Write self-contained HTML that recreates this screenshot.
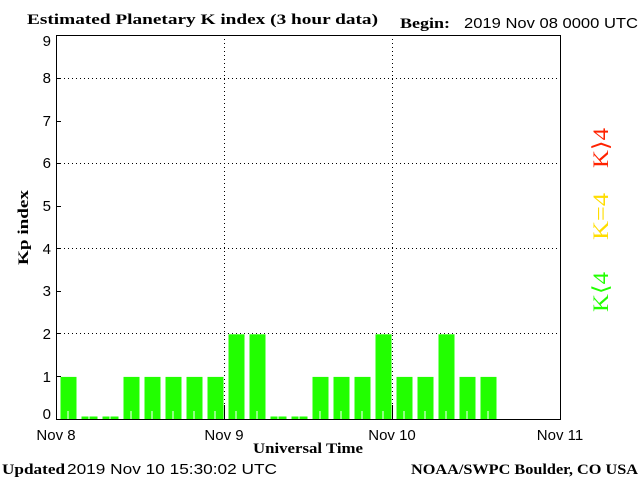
<!DOCTYPE html>
<html><head><style>body{margin:0;background:#fff}svg{display:block}</style></head><body>
<svg width="640" height="480" xmlns="http://www.w3.org/2000/svg">
<rect width="640" height="480" fill="#fff"/>
<g font-family="Liberation Serif, serif" font-weight="bold" font-size="15" fill="#000">
<text x="27" y="24" textLength="351" lengthAdjust="spacingAndGlyphs">Estimated Planetary K index (3 hour data)</text>
<text x="400" y="28" textLength="50" lengthAdjust="spacingAndGlyphs">Begin:</text>
<text x="253" y="453" textLength="110" lengthAdjust="spacingAndGlyphs">Universal Time</text>
<text x="2" y="474" textLength="63" lengthAdjust="spacingAndGlyphs">Updated</text>
<text x="411" y="474" textLength="227" lengthAdjust="spacingAndGlyphs">NOAA/SWPC Boulder, CO USA</text>
<text transform="translate(28,265) rotate(-90)" textLength="75" lengthAdjust="spacingAndGlyphs">Kp index</text>
</g>
<g font-family="Liberation Sans, sans-serif" font-size="15" fill="#000">
<text x="464" y="28" textLength="174" lengthAdjust="spacingAndGlyphs">2019 Nov 08 0000 UTC</text>
<text x="67" y="474" textLength="210" lengthAdjust="spacingAndGlyphs">2019 Nov 10 15:30:02 UTC</text>
<g text-anchor="end">
<text x="51" y="46">9</text><text x="51" y="83">8</text><text x="51" y="126">7</text><text x="51" y="168">6</text><text x="51" y="211">5</text><text x="51" y="254">4</text><text x="51" y="296">3</text><text x="51" y="339">2</text><text x="51" y="382">1</text><text x="51" y="419">0</text>
</g>
<g text-anchor="middle">
<text x="56" y="440">Nov 8</text><text x="224" y="440">Nov 9</text><text x="392" y="440">Nov 10</text><text x="560" y="440">Nov 11</text>
</g>
</g>
<g stroke="#000" stroke-width="1" stroke-dasharray="1,3">
<line x1="56" y1="78.5" x2="560" y2="78.5"/><line x1="56" y1="163.5" x2="560" y2="163.5"/><line x1="56" y1="248.5" x2="560" y2="248.5"/><line x1="56" y1="333.5" x2="560" y2="333.5"/>
<line x1="224.5" y1="35" x2="224.5" y2="419"/><line x1="392.5" y1="35" x2="392.5" y2="419"/>
</g>
<g fill="#22ff00">
<rect x="60.5" y="376.9" width="16" height="42.6"/>
<rect x="81.5" y="416.5" width="16" height="3"/>
<rect x="102.5" y="416.5" width="16" height="3"/>
<rect x="123.5" y="376.9" width="16" height="42.6"/>
<rect x="144.5" y="376.9" width="16" height="42.6"/>
<rect x="165.5" y="376.9" width="16" height="42.6"/>
<rect x="186.5" y="376.9" width="16" height="42.6"/>
<rect x="207.5" y="376.9" width="16" height="42.6"/>
<rect x="228.5" y="334.3" width="16" height="85.2"/>
<rect x="249.5" y="334.3" width="16" height="85.2"/>
<rect x="270.5" y="416.5" width="16" height="3"/>
<rect x="291.5" y="416.5" width="16" height="3"/>
<rect x="312.5" y="376.9" width="16" height="42.6"/>
<rect x="333.5" y="376.9" width="16" height="42.6"/>
<rect x="354.5" y="376.9" width="16" height="42.6"/>
<rect x="375.5" y="334.3" width="16" height="85.2"/>
<rect x="396.5" y="376.9" width="16" height="42.6"/>
<rect x="417.5" y="376.9" width="16" height="42.6"/>
<rect x="438.5" y="334.3" width="16" height="85.2"/>
<rect x="459.5" y="376.9" width="16" height="42.6"/>
<rect x="480.5" y="376.9" width="16" height="42.6"/>
</g>
<g fill="#fff">
<rect x="67.5" y="411" width="1" height="8"/><rect x="88.5" y="416" width="1" height="3"/><rect x="109.5" y="416" width="1" height="3"/><rect x="130.5" y="411" width="1" height="8"/><rect x="151.5" y="411" width="1" height="8"/><rect x="172.5" y="411" width="1" height="8"/><rect x="193.5" y="411" width="1" height="8"/><rect x="214.5" y="411" width="1" height="8"/><rect x="235.5" y="411" width="1" height="8"/><rect x="256.5" y="411" width="1" height="8"/><rect x="277.5" y="416" width="1" height="3"/><rect x="298.5" y="416" width="1" height="3"/><rect x="319.5" y="411" width="1" height="8"/><rect x="340.5" y="411" width="1" height="8"/><rect x="361.5" y="411" width="1" height="8"/><rect x="382.5" y="411" width="1" height="8"/><rect x="403.5" y="411" width="1" height="8"/><rect x="424.5" y="411" width="1" height="8"/><rect x="445.5" y="411" width="1" height="8"/><rect x="466.5" y="411" width="1" height="8"/><rect x="487.5" y="411" width="1" height="8"/>
</g>
<g stroke="#000" stroke-width="1">
<rect x="56.5" y="35.5" width="504" height="384" fill="none"/>
<line x1="56" y1="78.5" x2="61" y2="78.5"/><line x1="56" y1="121.5" x2="61" y2="121.5"/><line x1="56" y1="163.5" x2="61" y2="163.5"/><line x1="56" y1="206.5" x2="61" y2="206.5"/><line x1="56" y1="248.5" x2="61" y2="248.5"/><line x1="56" y1="291.5" x2="61" y2="291.5"/><line x1="56" y1="333.5" x2="61" y2="333.5"/><line x1="56" y1="376.5" x2="61" y2="376.5"/>
<line x1="224.5" y1="405" x2="224.5" y2="419"/><line x1="392.5" y1="405" x2="392.5" y2="419"/>
</g>
<g font-family="Liberation Serif, serif" font-size="22">
<text transform="translate(608,168) rotate(-90)" fill="#ff2200" textLength="40" lengthAdjust="spacingAndGlyphs">K⟩4</text>
<text transform="translate(608,240) rotate(-90)" fill="#ffdd00" textLength="47" lengthAdjust="spacingAndGlyphs">K=4</text>
<text transform="translate(608,312) rotate(-90)" fill="#22ff00" textLength="40" lengthAdjust="spacingAndGlyphs">K⟨4</text>
</g>
</svg>
</body></html>
